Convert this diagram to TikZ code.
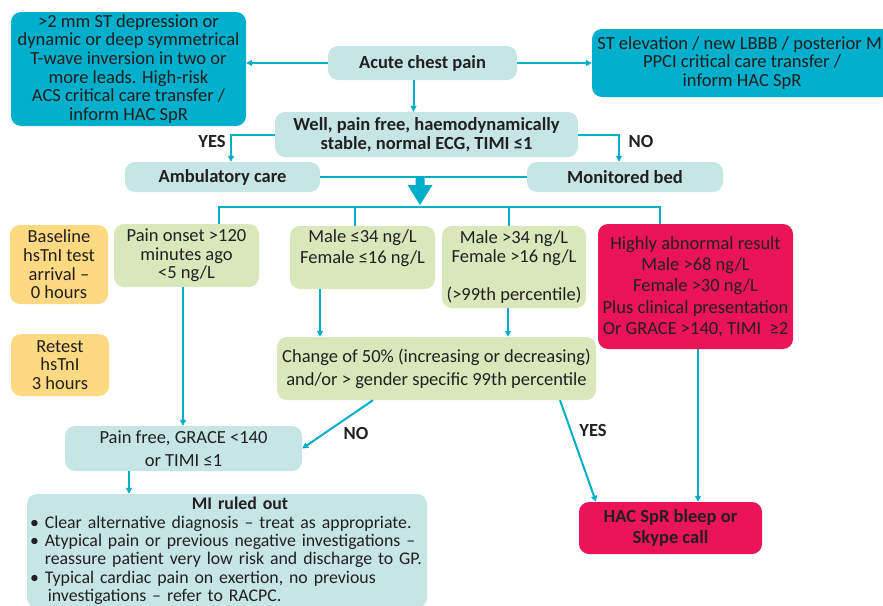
\documentclass[tikz,border=0pt]{standalone}
\usepackage{fontspec}
\setmainfont{Carlito}
\usepackage{xcolor}
\usetikzlibrary{arrows.meta}

\definecolor{tealdark}{HTML}{00AFCB}
\definecolor{teallight}{HTML}{C5E6E5}
\definecolor{leaf}{HTML}{D9E7BB}
\definecolor{butter}{HTML}{FDD981}
\definecolor{alarm}{HTML}{EC1459}
\definecolor{ink}{HTML}{231F20}
\definecolor{wire}{HTML}{00AECA}

\begin{document}
\begin{tikzpicture}[x=1pt, y=-1pt,
        box/.style={rounded corners=10pt, inner sep=0pt, align=center, text=ink},
        lines/.style={font=\fontsize{18.5}{#1}\selectfont},
        lines/.default=18.7,
        heavy/.style={font=\fontsize{18.5}{#1}\selectfont\bfseries},
        heavy/.default=19,
        link/.style={draw=wire, line width=2pt},
        arr/.style={link, -{Triangle[length=6pt,width=6pt]}},
        answer/.style={text=ink, heavy}]
        \useasboundingbox (0, 0) rectangle (883, 605);

        % top row
        \node[box, lines, fill=tealdark, minimum width=235pt, minimum height=114pt] (stdep) at (128.5, 69)
            {>2 mm ST depression or\\dynamic or deep symmetrical\\T-wave inversion in two or\\more leads. High-risk\\ACS critical care transfer /\\inform HAC SpR};
        \node[box, heavy, fill=teallight, minimum width=189pt, minimum height=34pt] (acute) at (422.5, 63)
            {Acute chest pain};
        \node[box, lines, fill=tealdark, minimum width=300pt, minimum height=68pt] (stel) at (742, 63)
            {ST elevation / new LBBB / posterior MI\\PPCI critical care transfer /\\inform HAC SpR};

        \node[box, heavy, fill=teallight, minimum width=303pt, minimum height=45pt] (well) at (426.5, 134.5)
            {Well, pain free, haemodynamically\\stable, normal ECG, TIMI ≤1};
        \node[box, heavy, fill=teallight, minimum width=195pt, minimum height=30pt] (amb) at (222.5, 177)
            {Ambulatory care};
        \node[box, heavy, fill=teallight, minimum width=196pt, minimum height=30pt] (mon) at (625, 177)
            {Monitored bed};

        % timing boxes
        \node[box, lines, fill=butter, minimum width=98pt, minimum height=79pt] (base) at (59, 264.5)
            {Baseline\\hsTnI test\\arrival --\\0 hours};
        \node[box, lines, fill=butter, minimum width=98pt, minimum height=62pt] (retest) at (60, 365)
            {Retest\\hsTnI\\3 hours};

        % results
        \node[box, lines, fill=leaf, minimum width=145pt, minimum height=63pt] (pain) at (186.5, 255.5)
            {Pain onset >120\\minutes ago\\<5 ng/L};
        \node[box, lines=21, fill=leaf, minimum width=145pt, minimum height=63pt] (lowA) at (362.5, 257.5)
            {Male ≤34 ng/L\\Female ≤16 ng/L\\\mbox{}};
        \node[box, lines=19, fill=leaf, minimum width=144pt, minimum height=82pt] (highA) at (514, 267)
            {Male >34 ng/L\\Female >16 ng/L\\\mbox{}\\(>99th percentile)};
        \node[box, lines=21.3, fill=alarm, minimum width=195pt, minimum height=125pt] (abn) at (695.5, 286.5)
            {Highly abnormal result\\Male >68 ng/L\\Female >30 ng/L\\Plus clinical presentation\\Or GRACE >140, TIMI~~≥2};

        \node[box, lines=23, fill=leaf, minimum width=319pt, minimum height=63pt] (change) at (436.5, 368.5)
            {Change of 50\% (increasing or decreasing)\\and/or > gender specific 99th percentile};
        \node[box, lines=23, fill=teallight, minimum width=237pt, minimum height=45pt] (painfree) at (183.5, 448.5)
            {Pain free, GRACE <140\\or TIMI ≤1};

        \node[box, fill=teallight, minimum width=400pt, minimum height=114pt, text width=394pt, align=left,
              font=\fontsize{17.8}{18.4}\selectfont] (ruled) at (227, 551)
            {\makebox[\linewidth]{\hspace{26pt}\textbf{MI ruled out}}\\
             \textbullet\ Clear alternative diagnosis -- treat as appropriate.\\
             \textbullet\ Atypical pain or previous negative investigations --\\
             \phantom{\textbullet\ }reassure patient very low risk and discharge to GP.\\
             \textbullet\ Typical cardiac pain on exertion, no previous\\
             \phantom{\textbullet\ }\,investigations -- refer to RACPC.};
        \node[box, heavy=21, fill=alarm, minimum width=183pt, minimum height=52pt] (hac) at (670.5, 528)
            {HAC SpR bleep or\\Skype call};

        \node[answer] (yesA) at (212, 141) {YES};
        \node[answer] (noA) at (641, 141) {NO};
        \node[answer] (noB) at (356, 433) {NO};
        \node[answer] (yesB) at (593, 430) {YES};

        \coordinate (drop) at (420, 177);
        \coordinate (bus) at (420, 207);

        % connectors
        \draw[arr] (acute.west) -- (acute.west -| stdep.east);
        \draw[arr] (acute.east) -- (acute.east -| stel.west);
        \draw[arr] ([xshift=-9pt]acute.south) -- ([xshift=-9pt]acute.south |- well.north);
        \draw[arr] (well.west) -| ([xshift=8.5pt]amb.north);
        \draw[arr] (well.east) -| ([xshift=-6pt]mon.north);
        \draw[link] (amb) -- (mon);
        \fill[wire] (drop) ++(-4.5, 0) -- ++(9, 0) -- ++(0, 8) -- ++(8, 0) -- ++(-12.5, 20)
            -- ++(-12.5, -20) -- ++(8, 0) -- cycle;

        \draw[link] ([xshift=32.5pt]pain.north) |- (bus) -| ([xshift=-35.5pt]abn.north);
        \draw[link] ([xshift=-7.5pt]lowA.north) |- (bus);
        \draw[link] ([xshift=-5pt]highA.north) |- (bus);

        \draw[arr] ([xshift=-3.5pt]pain.south) -- ([xshift=-3.5pt]pain.south |- painfree.north);
        \draw[arr] ([xshift=-42.5pt]lowA.south) -- ([xshift=-42.5pt]lowA.south |- change.north);
        \draw[arr] ([xshift=-6pt]highA.south) -- ([xshift=-6pt]highA.south |- change.north);
        \draw[arr] ([xshift=-63.5pt]change.south) -- (painfree.east);
        \draw[arr] ([xshift=123.5pt]change.south) -- ([xshift=-74.5pt]hac.north);
        \draw[arr] ([xshift=2.5pt]abn.south) -- ([xshift=2.5pt]abn.south |- hac.north);
        \draw[arr] ([xshift=-54.5pt]painfree.south) -- ([xshift=-54.5pt]painfree.south |- ruled.north);
    \end{tikzpicture}
\end{document}
